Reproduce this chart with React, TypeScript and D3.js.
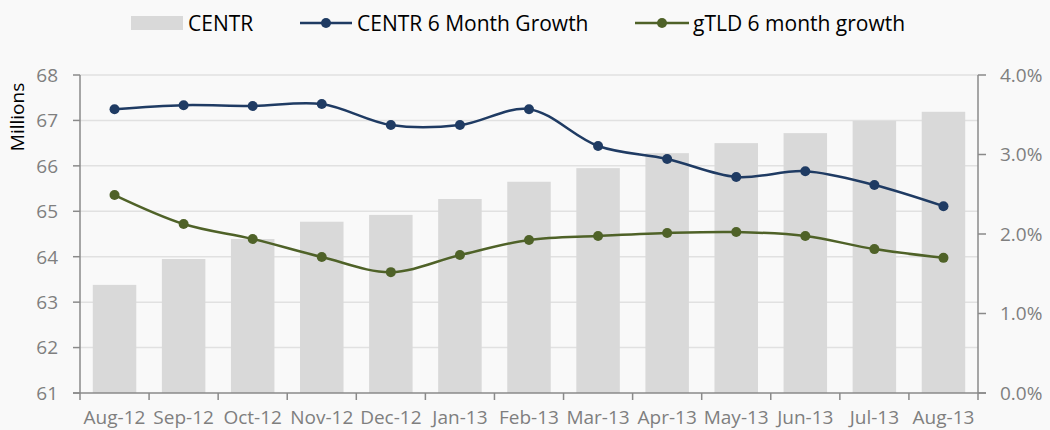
import React from "react";
import * as d3 from "d3";

const months = ["Aug-12","Sep-12","Oct-12","Nov-12","Dec-12","Jan-13","Feb-13","Mar-13","Apr-13","May-13","Jun-13","Jul-13","Aug-13"];
const centrTotal = [63.38,63.95,64.39,64.77,64.92,65.27,65.65,65.95,66.28,66.5,66.72,66.99,67.19];
const centrGrowth = [3.57,3.62,3.61,3.635,3.37,3.37,3.57,3.107,2.943,2.717,2.79,2.616,2.35];
const gtldGrowth = [2.49,2.126,1.937,1.71,1.52,1.735,1.925,1.975,2.013,2.025,1.975,1.81,1.70];
const leftTicks = [61,62,63,64,65,66,67,68];
const rightTicks = [0,1,2,3,4];

const W = 1050, H = 430;
const L = 80, R = 978, T = 75, B = 393;
const FONT = "'Open Sans', sans-serif";
const BLUE = "#1f3b63";
const GREEN = "#4f6228";
const AXIS = "#8a8a8a";
const TXT = "#7f7f7f";

export default function App() {
  const x = d3.scaleBand<string>().domain(months).range([L, R]).paddingInner(0.37).paddingOuter(0.185);
  const xb = d3.scaleBand<string>().domain(months).range([L, R]);
  const yL = d3.scaleLinear().domain([61, 68]).range([B, T]);
  const yR = d3.scaleLinear().domain([0, 4]).range([B, T]);
  const cx = (m: string) => xb(m)! + xb.bandwidth() / 2;
  const line = (vals: number[]) =>
    d3.line<number>().x((_, i) => cx(months[i])).y((v) => yR(v)).curve(d3.curveCatmullRom.alpha(0.5))(vals)!;

  return (
    <svg width={W} height={H} style={{ position: "absolute", left: 0, top: 0, background: "#f9f9f9" }} fontFamily={FONT}>
      <rect x={0} y={0} width={W} height={H} fill="#f9f9f9" />
      {leftTicks.slice(1).map((t) => (
        <line key={t} x1={L} x2={R} y1={yL(t)} y2={yL(t)} stroke="#e1e1e1" strokeWidth={1.5} />
      ))}
      {months.map((m, i) => (
        <rect key={m} x={x(m)} width={x.bandwidth()} y={yL(centrTotal[i])} height={B - yL(centrTotal[i])} fill="#d9d9d9" />
      ))}
      <line x1={L} x2={L} y1={T} y2={B} stroke={AXIS} strokeWidth={1.5} />
      <line x1={R} x2={R} y1={T} y2={B} stroke={AXIS} strokeWidth={1.5} />
      <line x1={L - 7} x2={R + 8} y1={B} y2={B} stroke={AXIS} strokeWidth={1.5} />
      {leftTicks.map((t) => (
        <g key={t}>
          <line x1={L - 7} x2={L} y1={yL(t)} y2={yL(t)} stroke={AXIS} strokeWidth={1.5} />
          <text x={58} y={yL(t)} dy="0.36em" textAnchor="end" fontSize={19} fill={TXT}>{t}</text>
        </g>
      ))}
      {rightTicks.map((t) => (
        <g key={t}>
          <line x1={R} x2={R + 8} y1={yR(t)} y2={yR(t)} stroke={AXIS} strokeWidth={1.5} />
          <text x={1000} y={yR(t)} dy="0.36em" textAnchor="start" fontSize={19} fill={TXT}>{t.toFixed(1)}%</text>
        </g>
      ))}
      {months.map((m) => (
        <line key={m} x1={xb(m)!} x2={xb(m)!} y1={B} y2={B + 7} stroke={AXIS} strokeWidth={1.5} />
      ))}
      <line x1={R} x2={R} y1={B} y2={B + 7} stroke={AXIS} strokeWidth={1.5} />
      {months.map((m) => (
        <text key={m} x={cx(m)} y={424} textAnchor="middle" fontSize={19} fill={TXT}>{m}</text>
      ))}
      <text transform={`translate(24,117) rotate(-90)`} textAnchor="middle" fontSize={19} fill="#000">Millions</text>
      <path d={line(centrGrowth)} fill="none" stroke={BLUE} strokeWidth={2.5} />
      {centrGrowth.map((v, i) => (
        <circle key={i} cx={cx(months[i])} cy={yR(v)} r={5} fill={BLUE} />
      ))}
      <path d={line(gtldGrowth)} fill="none" stroke={GREEN} strokeWidth={2.5} />
      {gtldGrowth.map((v, i) => (
        <circle key={i} cx={cx(months[i])} cy={yR(v)} r={5} fill={GREEN} />
      ))}
      <g fontSize={21} fill="#000">
        <rect x={131} y={16} width={52} height={14} fill="#d9d9d9" />
        <text x={188} y={23} dy="0.36em">CENTR</text>
        <line x1={300} x2={352} y1={23} y2={23} stroke={BLUE} strokeWidth={2.5} />
        <circle cx={326} cy={23} r={5} fill={BLUE} />
        <text x={357} y={23} dy="0.36em">CENTR 6 Month Growth</text>
        <line x1={635} x2={689} y1={23} y2={23} stroke={GREEN} strokeWidth={2.5} />
        <circle cx={662} cy={23} r={5} fill={GREEN} />
        <text x={693} y={23} dy="0.36em">gTLD 6 month growth</text>
      </g>
    </svg>
  );
}
